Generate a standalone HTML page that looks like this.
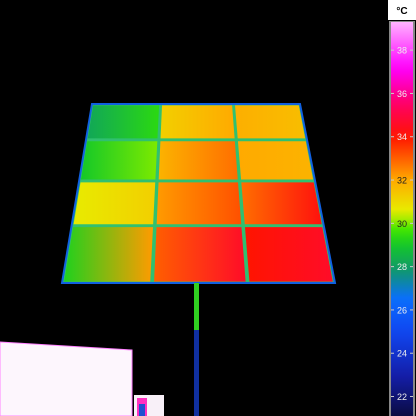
<!DOCTYPE html>
<html><head><meta charset="utf-8"><style>
html,body{margin:0;padding:0;background:#000;}
svg{display:block;font-family:"Liberation Sans",sans-serif;}
</style></head><body>
<svg id="chart" width="416" height="416" viewBox="0 0 416 416">
<defs>
<linearGradient id="scale" x1="0" y1="1" x2="0" y2="0"></linearGradient>
</defs>
<rect x="0" y="0" width="416" height="416" fill="#000"/>
<g id="panel"></g>
<g id="pole">
<rect x="194" y="283" width="5" height="50" fill="#30d020"/>
<rect x="194" y="330" width="5" height="86" fill="#1030a0"/>
</g>
<g>
<polygon points="0,342 132,350 132,416 0,416" fill="#fdf6fd" stroke="#ff80ff" stroke-width="1"/>
<rect x="134" y="395" width="30" height="21" fill="#f8f0f8"/>
<rect x="137" y="398" width="10" height="18" fill="#ff30c0"/>
<rect x="139" y="404" width="6" height="12" fill="#2050d0"/>
</g>
<g id="colorbar">
<rect x="388" y="0" width="28" height="20" fill="#fff"/>
<text x="402" y="14" font-size="10" font-weight="bold" text-anchor="middle" fill="#000">°C</text>
<rect x="389" y="21" width="26" height="395" fill="#888"/>
<rect x="391" y="22" width="22" height="394" fill="url(#scale)"/>
<g id="ticks"></g>
</g>
</svg>
<script>
const tickLabels=[38,36,34,32,30,28,26,24,22];
const tempMin=21.1, tempMax=39.3;
// cell temperatures, rows top->bottom, cols left->right: [left, right]
const row0=[[28.2,29.4],[31.2,32.0],[31.9,31.6]];
const row1=[[29.0,30.0],[31.8,32.8],[32.0,31.8]];
const row2=[[30.6,31.2],[32.2,33.2],[32.8,34.2]];
const row3=[[29.2,32.2],[33.0,34.6],[34.0,34.6]];
const rows=[row0,row1,row2,row3];
const stops=[[21,[10,10,60]],[23,[20,30,170]],[25,[16,70,240]],[26.5,[10,110,255]],[27.8,[16,150,110]],[29,[20,200,40]],[29.7,[60,230,0]],[30.5,[230,240,0]],[32,[255,170,0]],[34,[255,20,0]],[35.5,[255,0,100]],[37.2,[255,0,255]],[40,[255,240,255]]];
function col(t){for(let i=0;i<stops.length-1;i++){const a=stops[i],b=stops[i+1];if(t<=b[0]){const f=Math.max(0,(t-a[0])/(b[0]-a[0]));return 'rgb('+a[1].map((v,k)=>Math.round(v+(b[1][k]-v)*f)).join(',')+')';}}return 'rgb(255,240,255)';}
const NS='http://www.w3.org/2000/svg';
const sg=document.getElementById('scale');
for(let k=0;k<=40;k++){const t=tempMin+(tempMax-tempMin)*k/40;const st=document.createElementNS(NS,'stop');st.setAttribute('offset',k/40);st.setAttribute('stop-color',col(t));sg.appendChild(st);}
const yScale=t=>22+(tempMax-t)/(tempMax-tempMin)*394;
const tk=document.getElementById('ticks');
tickLabels.forEach(v=>{const y=yScale(v);
const t=document.createElementNS(NS,'text');t.setAttribute('x',402);t.setAttribute('y',y+3.5);t.setAttribute('font-size',9);t.setAttribute('text-anchor','middle');t.setAttribute('fill',v>=30&&v<=32?'#222':'#eee');t.textContent=v;


tk.appendChild(t);
const l=document.createElementNS(NS,'line');l.setAttribute('x1',391);l.setAttribute('x2',394);l.setAttribute('y1',y);l.setAttribute('y2',y);l.setAttribute('stroke','#ccc');tk.appendChild(l);
const r=document.createElementNS(NS,'line');r.setAttribute('x1',410);r.setAttribute('x2',413);r.setAttribute('y1',y);r.setAttribute('y2',y);r.setAttribute('stroke','#ccc');tk.appendChild(r);});
const TL=[92,104],TR=[300,104],BL=[62,283],BR=[335,283];
const rowB=[0,0.2,0.43,0.68,1], colB=[0,0.33,0.68,1];
function pt(u,v){const lx=TL[0]+(BL[0]-TL[0])*v,rx=TR[0]+(BR[0]-TR[0])*v;return [lx+(rx-lx)*u,TL[1]+(BL[1]-TL[1])*v];}
const panel=document.getElementById('panel');
const frame=document.createElementNS(NS,'polygon');
frame.setAttribute('points',[TL,TR,BR,BL].map(p=>p.join(',')).join(' '));frame.setAttribute('fill','#30c070');frame.setAttribute('stroke','#1060e0');frame.setAttribute('stroke-width','2');


panel.appendChild(frame);
const defs=document.querySelector('defs');
rows.forEach((row,ri)=>row.forEach((c,ci)=>{
const g=document.createElementNS(NS,'linearGradient');const id='g'+ri+ci;g.setAttribute('id',id);
[[0,c[0]],[1,c[1]]].forEach(s=>{const st=document.createElementNS(NS,'stop');st.setAttribute('offset',s[0]);st.setAttribute('stop-color',col(s[1]));g.appendChild(st);});
defs.appendChild(g);
const v0=rowB[ri]+0.008,v1=rowB[ri+1]-0.008,u0=colB[ci]+0.007,u1=colB[ci+1]-0.007;
const p=document.createElementNS(NS,'polygon');
p.setAttribute('points',[pt(u0,v0),pt(u1,v0),pt(u1,v1),pt(u0,v1)].map(q=>q.join(',')).join(' '));
p.setAttribute('fill','url(#'+id+')');


panel.appendChild(p);
}));
</script>
</body></html>
